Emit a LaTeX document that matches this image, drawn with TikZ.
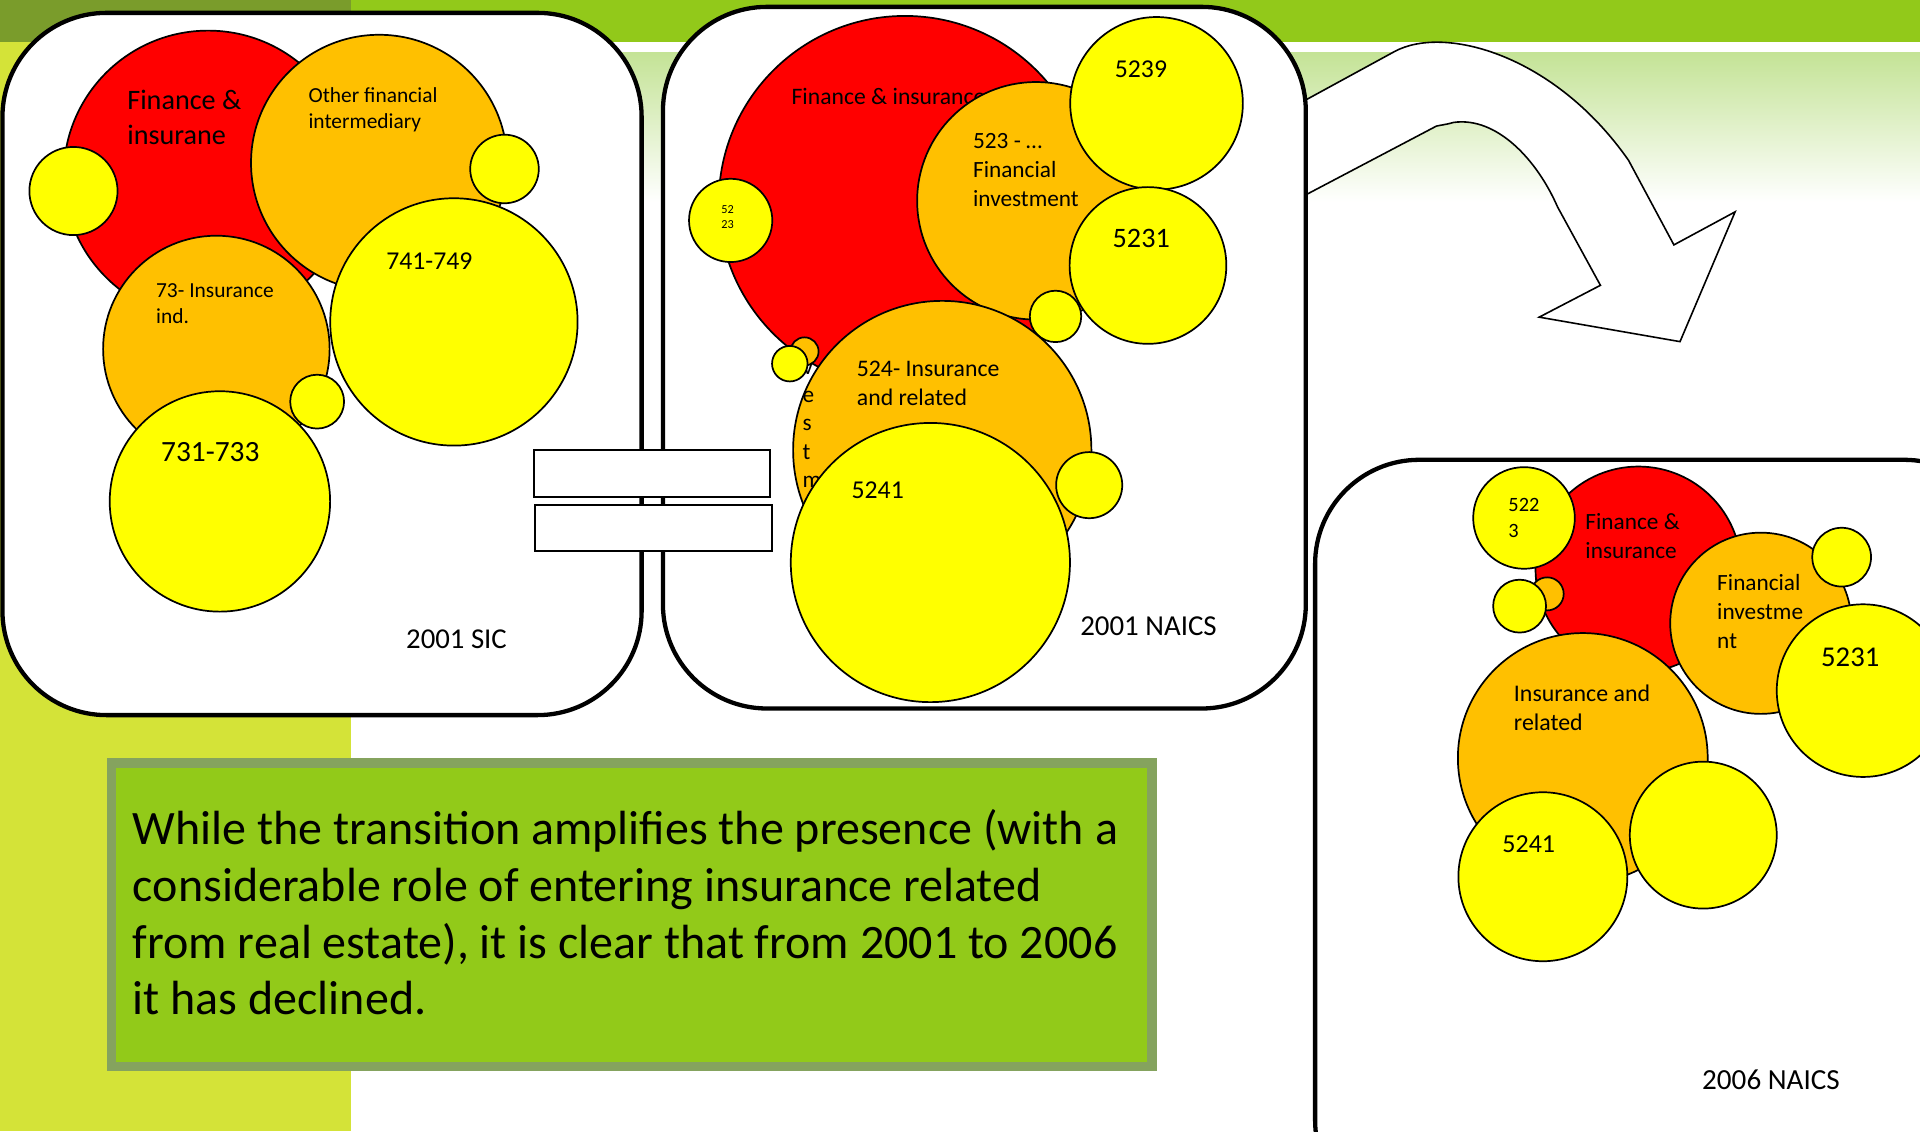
\documentclass[tikz,border=0pt]{standalone}
\usepackage{fontspec}
\setmainfont{Carlito}
\definecolor{finred}{HTML}{FF0000}
\definecolor{suborange}{HTML}{FFC000}
\definecolor{leafyellow}{HTML}{FFFF00}
\definecolor{bandgreen}{HTML}{92C91A}
\definecolor{darkband}{HTML}{7A9C2B}
\definecolor{sidegreen}{HTML}{D4E338}
\definecolor{fadegreen}{HTML}{C4E396}
\definecolor{boxedge}{HTML}{85A35E}
\definecolor{boxfill}{HTML}{92CA19}
% left-aligned block of lines whose baseline is the first line
\newcommand{\stackl}[1]{\begin{tabular}[t]{@{}l@{}}#1\end{tabular}}
\begin{document}
\begin{tikzpicture}[x=1pt, y=-1pt,
  bubble/.style={draw=black, line width=1.4pt},
  fin/.style={bubble, fill=finred},
  sub/.style={bubble, fill=suborange},
  leaf/.style={bubble, fill=leafyellow},
  panel/.style={draw=black, line width=3.5pt, fill=white, rounded corners=85pt},
  lbl/.style={anchor=base west, inner sep=0pt, outer sep=0pt, text=black},
  sz/.style 2 args={font=\fontsize{#1}{#2}\selectfont},
  eqbar/.style={draw=black, line width=1.6pt, fill=white},
]
% canvas
\path[use as bounding box] (0,0) rectangle (1568,924);
\clip (0,0) rectangle (1568,924);
\fill[white] (0,0) rectangle (1568,924);
\fill[sidegreen] (0,0) rectangle (287,924);
\fill[darkband] (0,0) rectangle (287,34.5);
\fill[bandgreen] (287,0) rectangle (1568,34.5);
\shade[top color=fadegreen, bottom color=white] (287,43) rectangle (1568,165);

% curved block arrow towards the 2006 panel
\draw[line width=1.3pt, fill=white, line join=miter]
  (1040,96) -- (1139,42) .. controls (1180,20) and (1270,45) .. (1330,131)
  -- (1367,200) -- (1417,173) -- (1372,279) -- (1257,259) -- (1307,233)
  -- (1272,169) .. controls (1255,130) and (1222,95) .. (1187,100)
  .. controls (1180,102) and (1177,102) .. (1173,103) -- (1040,173) -- cycle;

% ---------------- 2001 SIC ----------------
\draw[panel] (2,10.5) rectangle (524,584);
\filldraw[fin] (170,143) circle[radius=118];
\node[lbl, sz={23}{28.9}] (sicfin) at (104,89.4) {\stackl{Finance \&\\insurane}};
\filldraw[leaf] (60,156) circle[radius=36];
\filldraw[sub] (309.6,133) circle[radius=104.6];
\node[lbl, sz={17.5}{21.4}] (sicother) at (252,83.3) {\stackl{Other financial\\intermediary}};
\filldraw[leaf] (412,138) circle[radius=28];
\filldraw[sub] (176.7,285) circle[radius=92.5];
\node[lbl, sz={17.5}{20.8}] (sicins) at (127.5,243.3) {\stackl{73- Insurance\\ind.}};
\filldraw[leaf] (370.7,262.9) circle[radius=101];
\node[lbl, sz={21}{25}] (sic741) at (315.5,220.1) {741-749};
\filldraw[leaf] (179.6,409.5) circle[radius=90];
\node[lbl, sz={24}{28}] (sic731) at (131.6,376.6) {731-733};
\filldraw[leaf] (259,328) circle[radius=22];
\node[lbl, sz={23.5}{28}] (sictitle) at (331.7,529.4) {2001 SIC};

% ---------------- 2001 NAICS ----------------
\draw[panel] (541.4,5.6) rectangle (1066.4,578.6);
\filldraw[fin] (739,165) circle[radius=152];
\node[lbl, sz={19.3}{23}] (nfin) at (646.5,85.2) {Finance \& insurance};
\filldraw[leaf] (596.7,180) circle[radius=34];
\node[lbl, sz={10}{12.6}] (n5223) at (589.2,174.4) {\stackl{52\\23}};
\filldraw[sub] (846,164) circle[radius=97];
\node[lbl, sz={19}{23.75}] (n523) at (794.7,121.2) {\stackl{523 - …\\Financial\\investment}};
\filldraw[leaf] (944.5,84.4) circle[radius=70.5];
\node[lbl, sz={21}{25}] (n5239) at (910.5,63.3) {5239};
\filldraw[leaf] (937.5,216.8) circle[radius=64];
\node[lbl, sz={23}{27}] (n5231) at (908.7,201.9) {5231};
\filldraw[leaf] (862,258.4) circle[radius=21];
\filldraw[sub] (657,287) circle[radius=11.5];
\filldraw[sub] (769.5,367.5) circle[radius=121.8];
\node[lbl, sz={19.4}{23.1}] (n524) at (699.8,307.7) {\stackl{524- Insurance\\and related}};
\node[lbl, sz={19}{23.1}] (ninv) at (655.5,305.7) {\stackl{v\\e\\s\\t\\m}};
\filldraw[leaf] (645,297) circle[radius=14.5];
\filldraw[leaf] (759.8,459.4) circle[radius=114];
\node[lbl, sz={21}{25}] (n5241) at (695.5,407.3) {5241};
\filldraw[leaf] (889.5,396.2) circle[radius=27];
\node[lbl, sz={23.6}{28}] (ntitle) at (882.2,519) {2001 NAICS};

% ---------------- 2006 NAICS ----------------
\draw[panel] (1074,375.5) rectangle (1640,1000);
\filldraw[fin] (1338,465) circle[radius=84];
\node[lbl, sz={19}{23.7}] (mfin) at (1294.8,432.3) {\stackl{Finance \&\\insurance}};
\filldraw[leaf] (1244.6,423) circle[radius=41.5];
\node[lbl, sz={16.6}{21.3}] (m5223) at (1231.9,417.5) {\stackl{522\\3}};
\filldraw[sub] (1263.5,485) circle[radius=13.5];
\filldraw[leaf] (1241,495) circle[radius=21.6];
\filldraw[sub] (1438,509) circle[radius=74];
\node[lbl, sz={19}{23.4}] (minv) at (1402.4,482.6) {\stackl{Financial\\investme\\nt}};
\filldraw[leaf] (1504,455) circle[radius=24];
\filldraw[leaf] (1521.5,564) circle[radius=70.5];
\node[lbl, sz={23.4}{28}] (m5231) at (1487.3,544.4) {5231};
\filldraw[sub] (1292.6,619) circle[radius=102];
\node[lbl, sz={19.5}{23.4}] (mins) at (1236.4,573) {\stackl{Insurance and\\related}};
\filldraw[leaf] (1260,716) circle[radius=69];
\node[lbl, sz={21.2}{25}] (m5241) at (1227,695.9) {5241};
\filldraw[leaf] (1391,682) circle[radius=60];
\node[lbl, sz={23.8}{28}] (mtitle) at (1390.1,889.8) {2006 NAICS};

% equals sign between the two 2001 panels
\draw[eqbar] (435.8,367.5) rectangle (629,405.5);
\draw[eqbar] (437.2,412.5) rectangle (630.3,450);

% comment box
\draw[line width=8pt, draw=boxedge, fill=boxfill] (91,623) rectangle (940.5,871);
\node[lbl, sz={39.2}{46.3}] (note) at (108.5,690) {\stackl{While the transition amplifies the presence (with a\\considerable role of entering insurance related\\from real estate), it is clear that from 2001 to 2006\\it has declined.}};
\end{tikzpicture}
\end{document}
